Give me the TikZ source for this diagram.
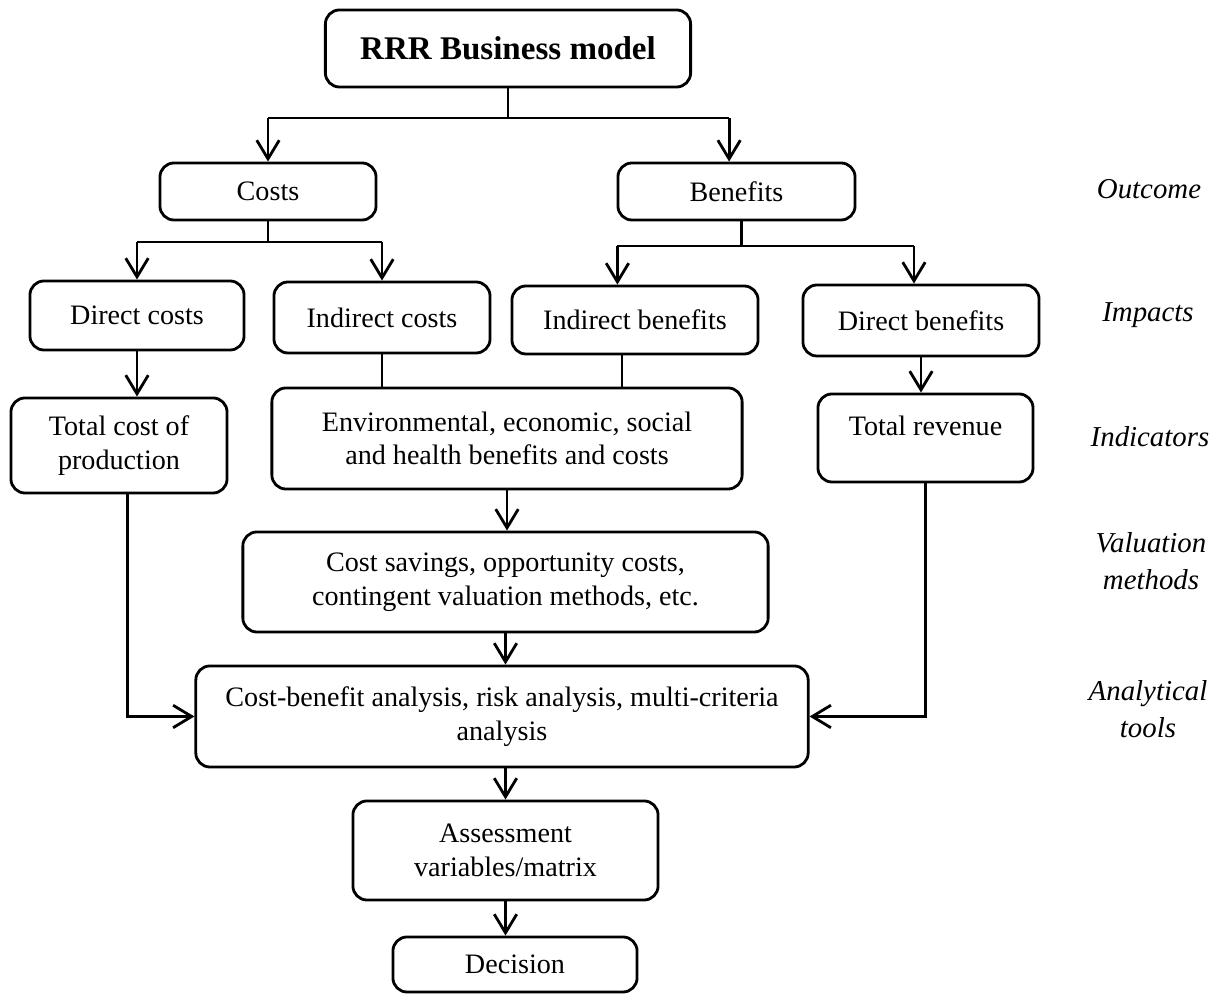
\documentclass[tikz,border=0pt]{standalone}
\usepackage{fontspec}
\setmainfont{Liberation Serif}
\usepackage{tikz}
\usetikzlibrary{arrows.meta}

\tikzset{
box/.style={draw, line width=0.8pt, rounded corners=4pt, align=center, inner sep=0pt, font=\fontsize{8}{9.6}\selectfont},
arr/.style={line width=0.8pt, -{Straight Barb[length=5.3pt,width=6.4pt]}},
conn/.style={line width=0.8pt},
lvl/.style={align=center, anchor=base, font=\fontsize{8.2}{10.8}\selectfont\itshape}
}

\begin{document}
\begin{tikzpicture}[x=0.01cm, y=-0.01cm]

\useasboundingbox (0,0) rectangle (1220,998);

% boxes
{
\node[box, minimum width=3.65cm, minimum height=0.77cm, font=\fontsize{9.4}{11}\selectfont\bfseries] (title) at (508,48.5) {RRR Business model};

\node[box, minimum width=2.16cm, minimum height=0.57cm] (costs) at (268,191.5) {Costs};
\node[box, minimum width=2.37cm, minimum height=0.57cm] (benefits) at (736.5,191.5) {Benefits};

\node[box, minimum width=2.14cm, minimum height=0.69cm] (dcost) at (137,315.5) {Direct costs};
\node[box, minimum width=2.16cm, minimum height=0.71cm] (icost) at (382,317.5) {Indirect costs};
\node[box, minimum width=2.46cm, minimum height=0.68cm] (iben) at (635,320) {Indirect benefits};
\node[box, minimum width=2.36cm, minimum height=0.71cm] (dben) at (921,320.5) {Direct benefits};

\node[box, minimum width=2.16cm, minimum height=0.95cm] (tcp) at (119,445.5) {Total cost of\\production};
\node[box, minimum width=4.70cm, minimum height=1.01cm] (env) at (507,438.5) {Environmental, economic, social\\and health benefits and costs};
\node[box, minimum width=2.15cm, minimum height=0.88cm, text depth=6.8pt] (trev) at (925.5,438) {Total revenue};

\node[box, minimum width=5.25cm, minimum height=1.00cm] (csave) at (505.5,582) {Cost savings, opportunity costs,\\contingent valuation methods, etc.};
\node[box, minimum width=6.12cm, minimum height=1.01cm] (cba) at (502,716.5) {Cost-benefit analysis, risk analysis, multi-criteria\\analysis};

\node[box, minimum width=3.05cm, minimum height=0.99cm] (assess) at (505.5,850.5) {Assessment\\variables/matrix};
\node[box, minimum width=2.44cm, minimum height=0.55cm] (decision) at (515,964.5) {Decision};
}

% arrows
\coordinate (busA) at (0,118);
\coordinate (busB) at (0,242);
\coordinate (busC) at (0,246);

\draw[conn] (title.south) -- (title.south |- busA);
\draw[conn] (costs |- busA) -- ([xshift=-2.1pt]benefits.north |- busA);
\draw[arr] (costs |- busA) -- (costs.north);
\draw[arr] ([xshift=-2.1pt]benefits.north |- busA) -- ([xshift=-2.1pt]benefits.north);

\draw[conn] (costs.south) -- (costs.south |- busB);
\draw[conn] (dcost |- busB) -- (icost |- busB);
\draw[arr] (dcost |- busB) -- (dcost.north);
\draw[arr] (icost |- busB) -- (icost.north);

\draw[conn] ([xshift=1.5pt]benefits.south) -- ([xshift=1.5pt]benefits.south |- busC);
\draw[conn] ([xshift=-5pt]iben.north |- busC) -- ([xshift=-2pt]dben.north |- busC);
\draw[arr] ([xshift=-5pt]iben.north |- busC) -- ([xshift=-5pt]iben.north);
\draw[arr] ([xshift=-2pt]dben.north |- busC) -- ([xshift=-2pt]dben.north);

\draw[arr] (dcost.south) -- (dcost.south |- tcp.north);
\draw[conn] (icost.south) -- (icost.south |- env.north);
\draw[conn] ([xshift=-3.7pt]iben.south) -- ([xshift=-3.7pt]iben.south |- env.north);
\draw[arr] (dben.south) -- (dben.south |- trev.north);

\draw[arr] (env.south) -- (env.south |- csave.north);
\draw[arr] (csave.south) -- (csave.south |- cba.north);
\draw[arr] ([xshift=2.5pt]tcp.south) |- (cba.west);
\draw[arr] (trev.south) |- (cba.east);
\draw[arr] (cba.south -| assess) -- (assess.north);
\draw[arr] (assess.south) -- (assess.south |- decision.north);

% labels
{
\node[lvl] (outcome) at (1149,199) {Outcome};
\node[lvl] (impacts) at (1148,322) {Impacts};
\node[lvl] (indicators) at (1150,447) {Indicators};
\node[lvl] (valuation) at (1151,590) {Valuation\\methods};
\node[lvl] (analytical) at (1148,738) {Analytical\\tools};
}

\end{tikzpicture}
\end{document}
